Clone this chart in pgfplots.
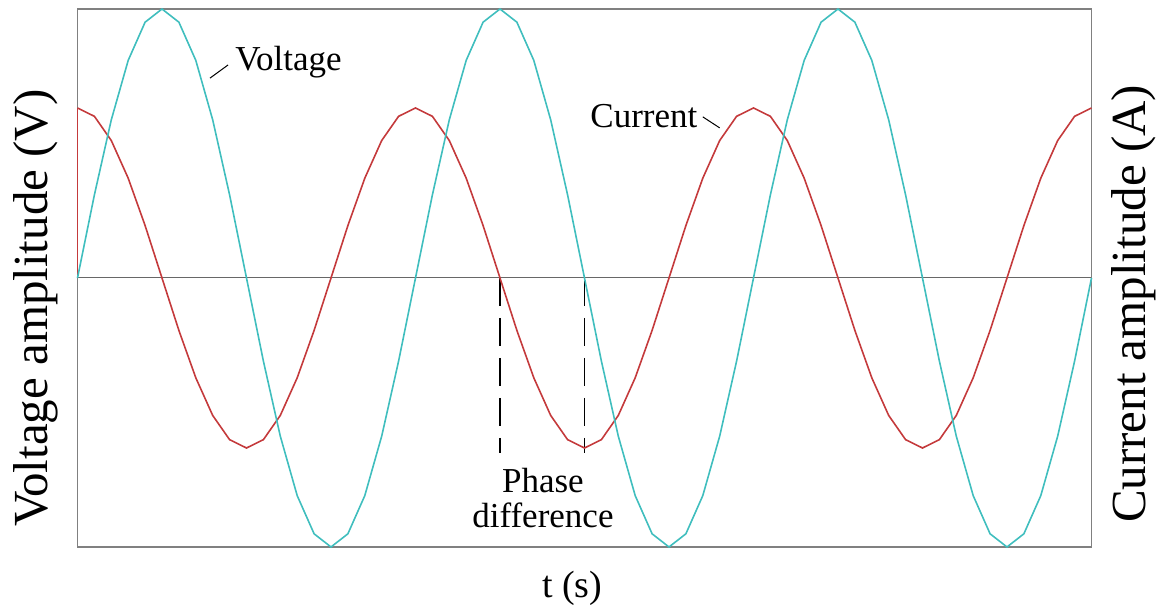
\documentclass[border=0pt]{standalone}
\usepackage{fontspec}
\setmainfont{Liberation Serif}
\usepackage{pgfplots}
\usepackage{pgfplotstable}
\pgfplotsset{compat=1.18}

\definecolor{voltc}{RGB}{64,190,190}
\definecolor{currc}{RGB}{196,58,60}
\definecolor{boxc}{RGB}{128,128,128}

% k = sample index (20 per period), v = voltage, i = current
\pgfplotstableread{
k   v       i
0   0       0.632
1   0.309   0.601
2   0.588   0.511
3   0.809   0.371
4   0.951   0.195
5   1.000   0
6   0.951  -0.195
7   0.809  -0.371
8   0.588  -0.511
9   0.309  -0.601
10  0      -0.632
11 -0.309  -0.601
12 -0.588  -0.511
13 -0.809  -0.371
14 -0.951  -0.195
15 -1.000   0
16 -0.951   0.195
17 -0.809   0.371
18 -0.588   0.511
19 -0.309   0.601
20  0       0.632
21  0.309   0.601
22  0.588   0.511
23  0.809   0.371
24  0.951   0.195
25  1.000   0
26  0.951  -0.195
27  0.809  -0.371
28  0.588  -0.511
29  0.309  -0.601
30  0      -0.632
31 -0.309  -0.601
32 -0.588  -0.511
33 -0.809  -0.371
34 -0.951  -0.195
35 -1.000   0
36 -0.951   0.195
37 -0.809   0.371
38 -0.588   0.511
39 -0.309   0.601
40  0       0.632
41  0.309   0.601
42  0.588   0.511
43  0.809   0.371
44  0.951   0.195
45  1.000   0
46  0.951  -0.195
47  0.809  -0.371
48  0.588  -0.511
49  0.309  -0.601
50  0      -0.632
51 -0.309  -0.601
52 -0.588  -0.511
53 -0.809  -0.371
54 -0.951  -0.195
55 -1.000   0
56 -0.951   0.195
57 -0.809   0.371
58 -0.588   0.511
59 -0.309   0.601
60  0       0.632
}\wave

\begin{document}
\begin{tikzpicture}[annot/.style={inner sep=0pt, font=\fontsize{17.5}{20}\selectfont}]
\useasboundingbox (-38.75pt,-30.5pt) rectangle (539.75pt,273.5pt);
\begin{axis}[
    scale only axis,
    width=507pt, height=269pt,
    xmin=0, xmax=60, ymin=-1, ymax=1,
    clip=false,
    ticks=none,
    axis line style={boxc, line width=0.75pt},
    xlabel={t (s)},
    ylabel={Voltage amplitude (V)},
    every axis x label/.style={at={(axis description cs:0.488,-0.093)}, anchor=base, font=\fontsize{19}{22}\selectfont},
    every axis y label/.style={at={(axis description cs:-0.030,0.444)}, anchor=base, rotate=90, font=\fontsize{24.5}{28}\selectfont},
]
\addplot[boxc!80!black, line width=0.5pt] coordinates {(0,0) (60,0)};
\addplot[black, line width=0.6pt, dash pattern=on 14pt off 6pt] coordinates {(25,0) (25,-0.65)};
\addplot[black, line width=0.6pt, dash pattern=on 14pt off 6pt] coordinates {(30,0) (30,-0.65)};
\addplot[currc, line width=0.8pt] coordinates {(0,0) (0,0.632)};
\addplot[currc, line width=0.8pt] table[x=k, y=i] {\wave};
\addplot[voltc, line width=0.8pt] table[x=k, y=v] {\wave};

\node[annot, anchor=base west] at (axis cs:9.32,0.773) {Voltage};
\draw[black, line width=0.5pt] (axis cs:7.84,0.743) -- (axis cs:8.91,0.792);
\node[annot, anchor=base west] at (axis cs:30.33,0.561) {Current};
\draw[black, line width=0.5pt] (axis cs:37.0,0.599) -- (axis cs:38.0,0.558);
\node[annot, anchor=base] at (axis cs:27.54,-0.796) {Phase};
\node[annot, anchor=base] at (axis cs:27.54,-0.926) {difference};
\node[anchor=base, rotate=90, font=\fontsize{24.5}{28}\selectfont] at (axis description cs:1.0535,0.452) {Current amplitude (A)};
\end{axis}
\end{tikzpicture}
\end{document}
